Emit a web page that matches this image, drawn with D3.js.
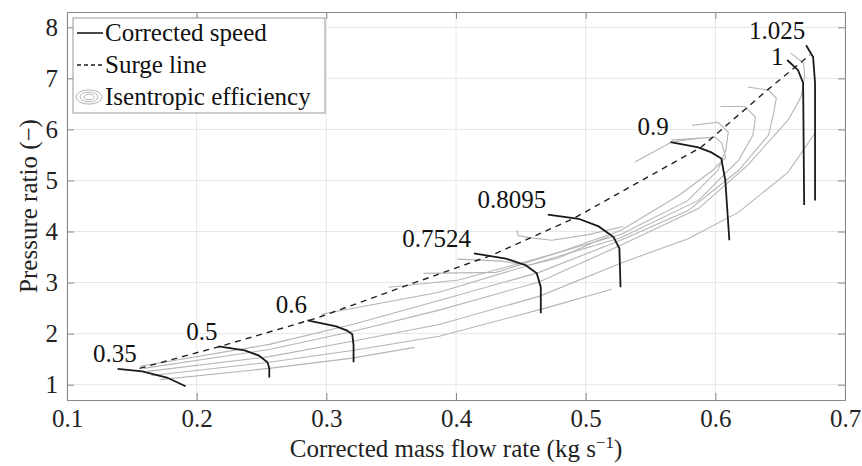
<!DOCTYPE html>
<html>
<head>
<meta charset="utf-8">
<script src="https://cdn.jsdelivr.net/npm/d3@7"></script>
<style>
  body { margin: 0; background: #fff; }
</style>
</head>
<body>
<svg id="chart"></svg>
<script>
// axis ticks
const xTicks = [0.1, 0.2, 0.3, 0.4, 0.5, 0.6, 0.7]
const yTicks = [1, 2, 3, 4, 5, 6, 7, 8]

// corrected speed lines
const speedNames = ['0.35', '0.5', '0.6', '0.7524', '0.8095', '0.9', '1', '1.025']
const speedX = [
  [0.139, 0.158, 0.177, 0.1915],
  [0.217, 0.237, 0.248, 0.2546, 0.256, 0.256],
  [0.2854, 0.3077, 0.316, 0.32, 0.321, 0.321],
  [0.4138, 0.4385, 0.4538, 0.4623, 0.4654, 0.4654],
  [0.4708, 0.4946, 0.51, 0.5215, 0.526, 0.5269],
  [0.5654, 0.5869, 0.5969, 0.6046, 0.6077, 0.6108],
  [0.6554, 0.6638, 0.6677, 0.6685],
  [0.67, 0.6754, 0.6769, 0.6769]
]
const speedY = [
  [1.31, 1.26, 1.14, 0.97],
  [1.75, 1.67, 1.57, 1.44, 1.32, 1.14],
  [2.26, 2.14, 2.06, 1.99, 1.77, 1.44],
  [3.57, 3.47, 3.34, 3.18, 2.91, 2.40],
  [4.33, 4.25, 4.10, 3.89, 3.67, 2.91],
  [5.75, 5.65, 5.55, 5.43, 5.00, 3.83],
  [7.36, 7.16, 6.91, 4.52],
  [7.65, 7.42, 6.91, 4.61]
]
const labelX = [0.137, 0.204, 0.273, 0.385, 0.443, 0.552, 0.6477, 0.6477]
const labelY = [1.44, 1.87, 2.40, 3.69, 4.47, 5.89, 7.26, 7.77]

// surge line
const surgeX = [0.156, 0.218, 0.292, 0.354, 0.428, 0.491, 0.589, 0.641, 0.673]
const surgeY = [1.32, 1.75, 2.30, 2.87, 3.54, 4.26, 5.65, 6.79, 7.46]

// isentropic efficiency contours
const effX = [
  [0.172, 0.256, 0.320, 0.368],
  [0.165, 0.256, 0.320, 0.387, 0.469, 0.520],
  [0.162, 0.256, 0.320, 0.387, 0.464, 0.527, 0.579, 0.618, 0.656, 0.677],
  [0.159, 0.256, 0.320, 0.387, 0.464, 0.527, 0.587, 0.625, 0.656, 0.666, 0.669, 0.668, 0.658],
  [0.156, 0.256, 0.320, 0.387, 0.464, 0.527, 0.579, 0.618, 0.641, 0.645, 0.647, 0.641, 0.625],
  [0.296, 0.387, 0.464, 0.527, 0.587, 0.618, 0.629, 0.631, 0.623, 0.604],
  [0.348, 0.402, 0.464, 0.527, 0.579, 0.602, 0.608, 0.610, 0.602, 0.582],
  [0.375, 0.431, 0.479, 0.527, 0.572, 0.598, 0.608, 0.605, 0.600, 0.566],
  [0.401, 0.435, 0.456, 0.479, 0.510, 0.518],
  [0.447, 0.448, 0.456, 0.474, 0.502, 0.529],
  [0.538, 0.566, 0.587]
]
const effY = [
  [1.10, 1.32, 1.52, 1.73],
  [1.18, 1.44, 1.67, 1.95, 2.50, 2.87],
  [1.26, 1.55, 1.85, 2.18, 2.73, 3.38, 3.86, 4.38, 5.16, 5.93],
  [1.32, 1.69, 2.04, 2.46, 3.01, 3.73, 4.45, 5.30, 6.18, 6.63, 7.03, 7.30, 7.50],
  [1.36, 1.79, 2.18, 2.65, 3.20, 3.83, 4.41, 5.20, 5.89, 6.32, 6.61, 6.77, 6.83],
  [2.38, 2.81, 3.40, 3.88, 4.61, 5.40, 5.89, 6.24, 6.45, 6.45],
  [2.91, 3.05, 3.48, 3.94, 4.61, 5.20, 5.59, 5.95, 6.14, 6.08],
  [3.18, 3.20, 3.59, 4.02, 4.71, 5.20, 5.45, 5.73, 5.85, 5.79],
  [3.46, 3.42, 3.34, 3.48, 3.83, 3.90],
  [4.02, 3.92, 3.88, 3.83, 3.94, 4.10],
  [5.36, 5.75, 5.83]
]

const legendNames = ['Corrected speed', 'Surge line', 'Isentropic efficiency']

const width = 862
const height = 466
const margin = {top: 12, right: 17, bottom: 66, left: 67}
const fontSize = 25
const serif = '"Liberation Serif", "Times New Roman", "DejaVu Serif", "Noto Serif", serif'

const svg = d3.select('#chart')
  .attr('width', width)
  .attr('height', height)
  .attr('font-family', serif)

const x = d3.scaleLinear().domain([0.1, 0.7]).range([margin.left, width - margin.right])
const y = d3.scaleLinear().domain([0.7, 8.3]).range([height - margin.bottom, margin.top])

const line = d3.line().x(d => x(d[0])).y(d => y(d[1]))
const zip = (xs, ys) => xs.map((v, i) => [v, ys[i]])

// grid
svg.append('g').selectAll('line').data(xTicks).enter().append('line')
  .attr('x1', d => x(d)).attr('x2', d => x(d))
  .attr('y1', y(0.7)).attr('y2', y(8.3))
  .attr('stroke', '#e6e6e6').attr('stroke-width', 1)
svg.append('g').selectAll('line').data(yTicks).enter().append('line')
  .attr('x1', x(0.1)).attr('x2', x(0.7))
  .attr('y1', d => y(d)).attr('y2', d => y(d))
  .attr('stroke', '#e6e6e6').attr('stroke-width', 1)

// axes, ticks pointing inwards
const tickLen = 7
svg.append('g')
  .attr('transform', `translate(0,${y(0.7)})`)
  .call(d3.axisBottom(x).tickValues(xTicks).tickSize(-tickLen).tickPadding(9).tickFormat(d3.format('.1f')))
svg.append('g')
  .attr('transform', `translate(0,${y(8.3)})`)
  .call(d3.axisTop(x).tickValues(xTicks).tickSize(-tickLen).tickFormat(''))
svg.append('g')
  .attr('transform', `translate(${x(0.1)},0)`)
  .call(d3.axisLeft(y).tickValues(yTicks).tickSize(-tickLen).tickPadding(9).tickFormat(d3.format('d')))
svg.append('g')
  .attr('transform', `translate(${x(0.7)},0)`)
  .call(d3.axisRight(y).tickValues(yTicks).tickSize(-tickLen).tickFormat(''))

svg.selectAll('.domain').attr('stroke', '#888')
svg.selectAll('.tick line').attr('stroke', '#888')
svg.selectAll('g').attr('font-family', serif)
svg.selectAll('.tick text')
  .attr('font-size', fontSize)
  .attr('fill', '#222')

// efficiency contours
svg.append('g').selectAll('path').data(effX).enter().append('path')
  .attr('d', (d, i) => line(zip(d, effY[i])))
  .attr('fill', 'none')
  .attr('stroke', '#b5b5b5')
  .attr('stroke-width', 1.1)

// surge line
svg.append('path')
  .attr('d', line(zip(surgeX, surgeY)))
  .attr('fill', 'none')
  .attr('stroke', '#222')
  .attr('stroke-width', 1.4)
  .attr('stroke-dasharray', '6,5')

// speed lines
svg.append('g').selectAll('path').data(speedX).enter().append('path')
  .attr('d', (d, i) => line(zip(d, speedY[i])))
  .attr('fill', 'none')
  .attr('stroke', '#1a1a1a')
  .attr('stroke-width', 1.8)

svg.append('g').selectAll('text').data(speedNames).enter().append('text')
  .attr('x', (d, i) => x(labelX[i]))
  .attr('y', (d, i) => y(labelY[i]))
  .attr('text-anchor', 'middle')
  .attr('font-size', fontSize)
  .attr('fill', '#111')
  .text(d => d)

// axis titles
const xTitle = svg.append('text')
  .attr('x', (x(0.1) + x(0.7)) / 2)
  .attr('y', 457)
  .attr('text-anchor', 'middle')
  .attr('font-size', fontSize)
  .attr('fill', '#222')
xTitle.append('tspan').text('Corrected mass flow rate (kg s')
xTitle.append('tspan').attr('dy', -9).attr('font-size', 17).text('\u22121')
xTitle.append('tspan').attr('dy', 9).text(')')

svg.append('text')
  .attr('transform', `translate(37,${(y(0.7) + y(8.3)) / 2}) rotate(-90)`)
  .attr('text-anchor', 'middle')
  .attr('font-size', fontSize)
  .attr('fill', '#222')
  .text('Pressure ratio (\u2212)')

// legend
const lg = svg.append('g')
lg.append('rect')
  .attr('x', 73).attr('y', 18)
  .attr('width', 252).attr('height', 95)
  .attr('fill', '#fff')
  .attr('stroke', '#999')
  .attr('stroke-width', 1)
const rowY = [33, 65, 97]
lg.append('line')
  .attr('x1', 77).attr('x2', 103).attr('y1', rowY[0]).attr('y2', rowY[0])
  .attr('stroke', '#1a1a1a').attr('stroke-width', 1.6)
lg.append('line')
  .attr('x1', 77).attr('x2', 103).attr('y1', rowY[1]).attr('y2', rowY[1])
  .attr('stroke', '#1a1a1a').attr('stroke-width', 1.3).attr('stroke-dasharray', '4,3')
lg.selectAll('ellipse').data([13, 9, 5]).enter().append('ellipse')
  .attr('cx', 89).attr('cy', rowY[2])
  .attr('rx', d => d).attr('ry', d => d * 0.55)
  .attr('fill', 'none')
  .attr('stroke', '#b5b5b5')
  .attr('stroke-width', 1)
lg.selectAll('text').data(legendNames).enter().append('text')
  .attr('x', 105)
  .attr('y', (d, i) => rowY[i] + 8)
  .attr('font-size', fontSize)
  .attr('fill', '#111')
  .text(d => d)
</script>
</body>
</html>
